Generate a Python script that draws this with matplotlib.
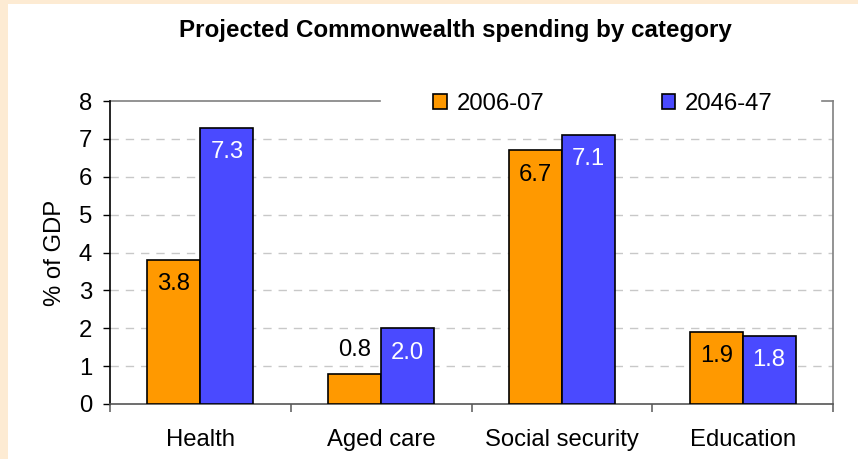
import matplotlib
matplotlib.use("Agg")
import matplotlib.pyplot as plt
from matplotlib.patches import Rectangle
from matplotlib.lines import Line2D
import numpy as np

categories = ["Health", "Aged care", "Social security", "Education"]
series_names = ["2006-07", "2046-47"]
spend_2006 = [3.8, 0.8, 6.7, 1.9]
spend_2046 = [7.3, 2.0, 7.1, 1.8]
y_ticks = [0, 1, 2, 3, 4, 5, 6, 7, 8]

plt.rcParams["font.family"] = ["Liberation Sans", "DejaVu Sans"]
FS = 17.2

W, H = 858, 459
fig = plt.figure(figsize=(W / 100, H / 100), dpi=100)
fig.patch.set_facecolor("#FDEBD3")
fig.add_artist(Rectangle((8 / W, 0), 1 - 8 / W, 1 - 4 / H,
                         transform=fig.transFigure, facecolor="white",
                         edgecolor="none", zorder=-10))

ax = fig.add_axes([110 / W, 55 / H, 723 / W, 303 / H])
ax.set_facecolor("white")

x = np.arange(len(categories))
bw = 0.293
orange = "#FF9900"
blue = "#4A4AFF"
b1 = ax.bar(x - bw / 2, spend_2006, bw, color=orange, edgecolor="black",
            linewidth=1.2, zorder=3, label=series_names[0])
b2 = ax.bar(x + bw / 2, spend_2046, bw, color=blue, edgecolor="black",
            linewidth=1.2, zorder=3, label=series_names[1])

def put_labels(bars, vals, inside_color):
    for rect, v in zip(bars, vals):
        cx = rect.get_x() + rect.get_width() / 2
        if v > 1.0:
            ax.annotate(f"{v:.1f}", (cx, v), xytext=(0, -17.5),
                        textcoords="offset points", ha="center", va="center",
                        fontsize=FS, color=inside_color, zorder=4)
        else:
            ax.annotate(f"{v:.1f}", (cx, v), xytext=(0, 17),
                        textcoords="offset points", ha="center", va="center",
                        fontsize=FS, color="black", zorder=4)

put_labels(b1, spend_2006, "black")
put_labels(b2, spend_2046, "white")

ax.set_xlim(-0.5, len(categories) - 0.5)
ax.set_ylim(0, 8)
ax.set_yticks(y_ticks)
ax.set_yticklabels([str(t) for t in y_ticks], fontsize=FS)
ax.tick_params(axis="y", length=5, width=1, color="black", pad=8)

ax.set_xticks(x)
ax.set_xticklabels(categories, fontsize=FS)
ax.set_xticks(np.arange(-0.5, len(categories)), minor=True)
ax.tick_params(axis="x", which="major", length=0, pad=18)
ax.tick_params(axis="x", which="minor", length=6, width=1.2, color="#666666")

for v in y_ticks[1:-1]:
    ax.axhline(v, color="#C8C8C8", linewidth=1, linestyle=(0, (6, 5)), zorder=1)

ax.spines["left"].set_color("black")
ax.spines["left"].set_linewidth(1.2)
ax.spines["bottom"].set_color("#555555")
ax.spines["bottom"].set_linewidth(1.2)
ax.spines["right"].set_color("#808080")
ax.spines["right"].set_linewidth(1.2)
ax.spines["top"].set_visible(False)
for x0, x1 in [(0, 270 / 723), (712 / 723, 1)]:
    ax.add_line(Line2D([x0, x1], [1, 1], transform=ax.transAxes,
                       color="#808080", linewidth=1.2, clip_on=False))

ax.set_ylabel("% of GDP", fontsize=FS, labelpad=9)

leg = ax.legend(loc="center", bbox_to_anchor=(0.682, 0.99), ncol=2, frameon=False,
                fontsize=FS, handlelength=0.58, handleheight=0.58,
                handletextpad=0.4, columnspacing=4.9, borderaxespad=0)
for h in leg.legend_handles:
    h.set_edgecolor("black")
    h.set_linewidth(1.2)

fig.text(455 / W, 1 - 30 / H, "Projected Commonwealth spending by category",
         ha="center", va="center", fontsize=17.4, fontweight="bold")

fig.savefig("out.png", dpi=100, facecolor=fig.get_facecolor())
